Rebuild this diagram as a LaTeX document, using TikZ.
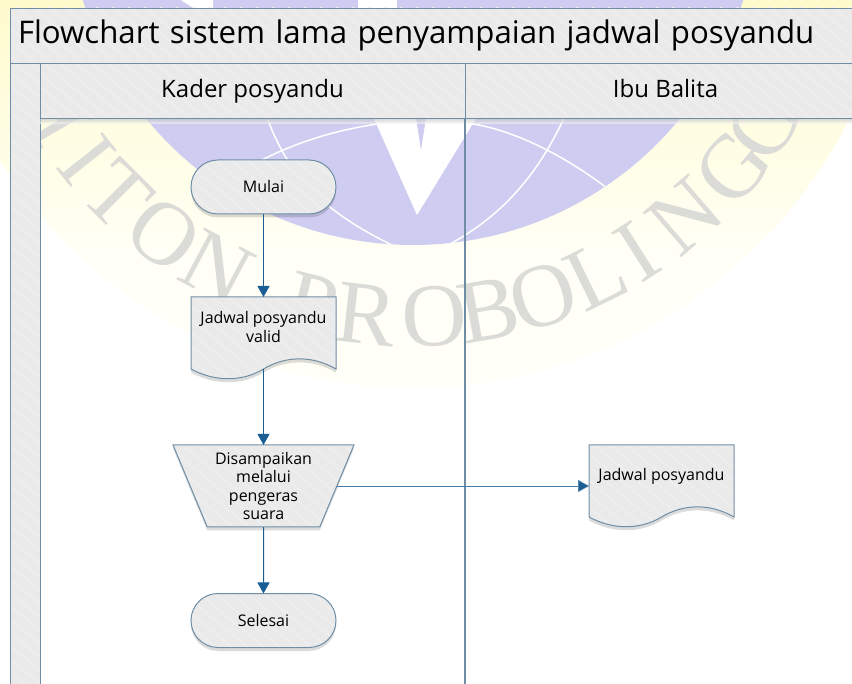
\documentclass[tikz,border=0pt]{standalone}
\usepackage{fontspec}
\setmainfont{Open Sans}
\newfontfamily\stampfont{Liberation Serif}
\usetikzlibrary{arrows.meta,calc,positioning,shadows,shapes.geometric,shapes.misc}
\definecolor{swimfill}{HTML}{EAEAEA}
\definecolor{swimstripe}{HTML}{EFEFEF}
\definecolor{swimline}{HTML}{6F8EA6}
\definecolor{flowblue}{HTML}{1A5E94}
\definecolor{stampviolet}{HTML}{CFCCF1}
\definecolor{stampyellow}{HTML}{FFFBCB}
\definecolor{stamppale}{HTML}{FFFFF7}
\definecolor{stampgrey}{HTML}{DBDBD7}
\tikzset{
  swim hatch/.style={
    fill=swimfill,
    path picture={
      \foreach \s in {-1200,-1184,...,1200}
        \draw[swimstripe,line width=1.4pt]
          ($(path picture bounding box.center)+(\s-600,-500)$) -- +(1200,1000);
    }
  },
  swim head/.style={
    draw=swimline, line width=.9pt, swim hatch,
    anchor=north west, inner sep=0pt, outer sep=0pt,
    minimum height=55pt
  },
  lane label/.style={
    swim head, text height=21pt, text depth=6pt,
    font=\fontsize{24}{24}\selectfont
  },
  flow shape/.style={
    draw=swimline, line width=1pt, swim hatch,
    drop shadow={shadow xshift=0pt,shadow yshift=-3.5pt,opacity=.14,fill=black},
    inner sep=0pt, outer sep=0pt, align=center,
    font=\fontsize{16}{18.6}\selectfont
  },
  flow terminal/.style={
    flow shape, rounded rectangle,
    minimum width=145pt, minimum height=54pt
  },
  flow manual/.style={
    flow shape, trapezium, shape border rotate=180,
    trapezium stretches=true, trapezium angle=66.6,
    minimum width=181pt, minimum height=82pt
  },
  doc frame/.style={
    inner sep=0pt, outer sep=0pt,
    minimum width=145pt, minimum height=72pt
  },
  doc text/.style={
    align=center, inner sep=0pt,
    font=\fontsize{16}{18.6}\selectfont
  },
  flow arrow/.style={
    draw=flowblue, line width=1pt,
    -{Triangle[width=12pt,length=11pt,fill=flowblue]}
  },
  stamp letter/.style={
    text=stampgrey, inner sep=0pt,
    font=\stampfont\fontsize{90}{90}\selectfont
  },
  globe line/.style={draw=white, line width=1.5pt}
}
\newcommand{\docpath}[1]{
  \draw[flow shape] (#1.north west) -- (#1.north east) -- (#1.south east)
    .. controls +(-24,-14) and +(21.5,-13) .. (#1.south)
    .. controls +(-21.5,13) and +(24,13) .. (#1.south west) -- cycle;
}
\begin{document}
\begin{tikzpicture}[x=1pt,y=-1pt]
  \useasboundingbox (0,0) rectangle (852,684);
  \clip (0,0) rectangle (852,684);

  \fill[stamppale] (413,-100) circle[radius=488];
  \begin{scope}
    \clip (413,-100) circle[radius=488];
    \shade[top color=stampyellow,bottom color=stamppale] (-10,-10) rectangle (870,260);
  \end{scope}
  \fill[stampviolet] (413,-100) circle[radius=345];
  \begin{scope}
    \clip (413,-100) circle[radius=345];
    \fill[white] (358,-5) -- (397,-5) -- (397,12) -- (358,12) -- cycle;
    \fill[white] (370,110) -- (417,215) -- (480,112) -- cycle;
    \fill[stampviolet] (414,105) -- (428,105) -- (421,150) -- cycle;
    \fill[white] (173,-5) -- (213,-5) -- (213,9) -- (195,9) -- cycle;
    \draw[globe line] (268,120) .. controls (290,180) and (330,215) .. (392,245);
    \draw[globe line] (262,160) .. controls (295,143) and (335,130) .. (378,124);
    \draw[globe line] (466,123) .. controls (510,128) and (565,155) .. (612,192);
    \draw[globe line] (564,118) .. controls (540,170) and (505,215) .. (448,245);
  \end{scope}

  \foreach \letter/\ang [count=\i] in {H/-60,I/-51.5,T/-45,O/-36.7,N/-28,P/-14,R/-6.4,O/3,B/10.4,O/18.2,L/26,I/32.5,N/40.7,G/50,G/57.5}
    \node[stamp letter,rotate=\ang] (stamp\i) at ({413+417*sin(\ang)},{-100+417*cos(\ang)}) {\letter};

  \node[swim head,minimum width=850pt,text width=834pt,align=left,
        font=\fontsize{31.2}{31.2}\selectfont] (poolhead) at (10,8) {\raisebox{-2pt}{Flowchart sistem lama penyampaian jadwal posyandu}};
  \node[swim head,minimum width=30pt,minimum height=630pt] (stripe) at (10,63) {};
  \shade[top color=black!28,bottom color=black!0,opacity=.6] (40,118) rectangle (852,124);
  \node[lane label,minimum width=425pt] (lanekader) at (40,63) {Kader posyandu};
  \node[lane label,minimum width=401pt] (laneibu) at (465,63) {Ibu Balita};
  \coordinate (stripefoot) at (40,684);
  \draw[swimline,line width=1.4pt] (lanekader.south east) -- (lanekader.south east |- stripefoot);

  \node[flow terminal] (mulai) at (263.5,187) {Mulai};
  \node[doc frame] (docvalid) at (263.5,333) {};
  \docpath{docvalid}
  \node[doc text] (docvalidtext) at (263.5,327) {Jadwal posyandu\\valid};
  \node[flow manual] (pengeras) at (263.5,486) {Disampaikan\\melalui\\pengeras\\suara};
  \node[flow terminal] (selesai) at (263.5,620.5) {Selesai};
  \node[doc frame] (docjadwal) at (661.5,481) {};
  \docpath{docjadwal}
  \node[doc text] (docjadwaltext) at (661.5,476) {Jadwal posyandu};

  \draw[flow arrow] (mulai) -- (docvalid);
  \draw[flow arrow] (docvalid) -- (pengeras);
  \draw[flow arrow] (pengeras) -- (selesai);
  \draw[flow arrow,line width=.7pt,draw=flowblue!80] (pengeras.east) -- (pengeras.east -| docjadwal.west);
\end{tikzpicture}
\end{document}
